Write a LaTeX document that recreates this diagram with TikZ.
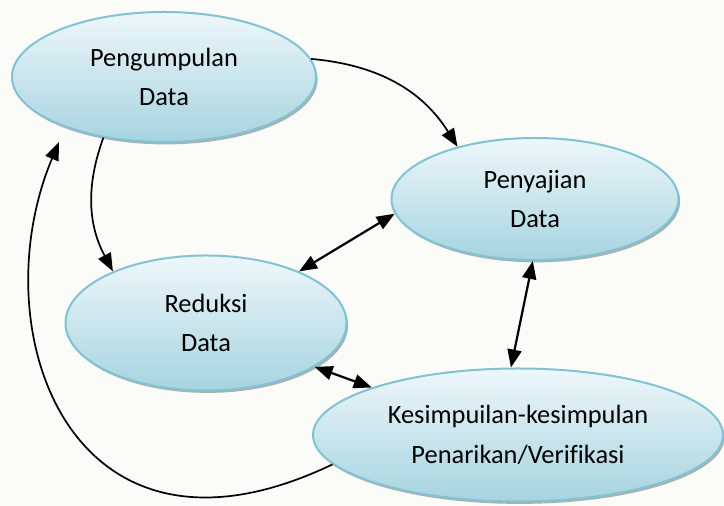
\documentclass[tikz,border=0pt]{standalone}
\usepackage{fontspec}
\setmainfont{Carlito}[Ligatures=CommonOff]
\usetikzlibrary{positioning, arrows.meta, shapes.geometric, shadows}
\definecolor{paper}{RGB}{251,251,248}
\definecolor{rim}{RGB}{125,196,214}
\definecolor{toplight}{RGB}{238,247,250}
\definecolor{botblue}{RGB}{166,212,224}

\begin{document}
\begin{tikzpicture}[x=0.5pt, y=-0.5pt, font=\fontsize{13.2}{19.6}\selectfont,
  stage/.style={ellipse, draw=rim, line width=1pt, top color=toplight, bottom color=botblue, align=center, inner sep=0pt,
    drop shadow={shadow xshift=0.8pt, shadow yshift=-1.2pt, fill=black, opacity=0.3}},
  ar/.style={-{Triangle[length=9pt, width=7pt]}, line width=0.85pt},
  ex/.style={{Triangle[length=9pt, width=7pt]}-{Triangle[length=9pt, width=7pt]}, line width=1.1pt}]

\fill[paper] (0,0) rectangle (724,506);
\useasboundingbox (0,0) rectangle (724,506);

\node[stage, minimum width=152pt, minimum height=65pt] at (164,77) (peng) {Pengumpulan\\ Data};
\node[stage, minimum width=143.5pt, minimum height=61pt] at (535,199) (saji) {Penyajian\\ Data};
\node[stage, minimum width=140.5pt, minimum height=67.5pt] at (206,323) (redu) {Reduksi\\ Data};
\node[stage, minimum width=205pt, minimum height=66.5pt] at (518,435) (simp) {Kesimpuilan-kesimpulan\\ Penarikan/Verifikasi};

% one-way flow
\draw[ar] (peng.7) to[out=-5, in=122] (saji.146);
\draw[ar] (peng.225) to[out=250, in=118] (redu.151);

% two-way links
\draw[ex] (redu.29) -- (saji.186);
\draw[ex] (saji.268) -- (simp.96);
\draw[ex] (redu.338) -- (simp.162);

% back to the start
\draw[ar, shorten >=8pt] (simp.189) .. controls (70,590) and (-20,330) .. (peng.207);
\end{tikzpicture}
\end{document}
